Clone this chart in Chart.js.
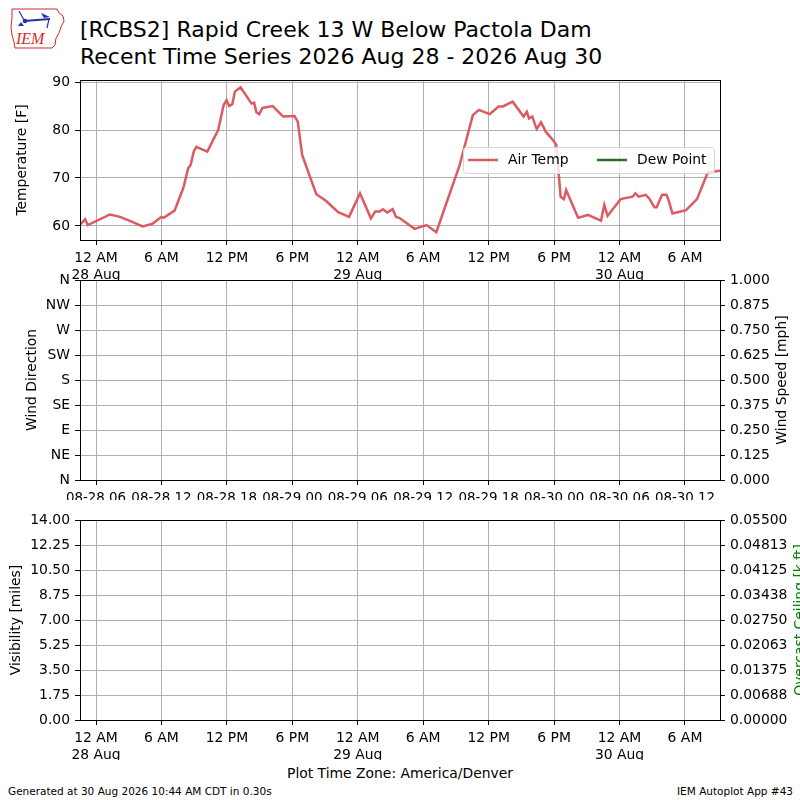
<!DOCTYPE html>
<html>
<head>
<meta charset="utf-8">
<title>RCBS2 Recent Time Series</title>
<script src="https://cdn.jsdelivr.net/npm/chart.js@4.4.1/dist/chart.umd.min.js"></script>
<style>
  body { margin: 0; background: #fff; }
  #wrap { position: relative; width: 800px; height: 800px; overflow: hidden; font-family: "DejaVu Sans", sans-serif; }
  #wrap canvas { position: absolute; left: 0; top: 0; }
  .txt { position: absolute; white-space: nowrap; color: #000; }
</style>
</head>
<body>
<div id="wrap">
  <svg style="position:absolute;left:0;top:0" width="80" height="60" viewBox="0 0 80 60">
    <path d="M12 9 L57 9 L59 13 L63 16 L64 21 L61 27 L59 33 L56 38 L55 45 L52 48 L15 48 L14 42 L12 35 L11 27 L12 18 Z" fill="none" stroke="#d42a2a" stroke-width="1"/>
    <line x1="24" y1="21" x2="50" y2="19" stroke="#2233aa" stroke-width="2"/>
    <circle cx="25" cy="21" r="2.3" fill="#2233aa"/>
    <line x1="19" y1="11" x2="24" y2="20" stroke="#2233aa" stroke-width="1.2"/>
    <path d="M41 13 L50 17 L44 18 Z" fill="#2233aa"/>
    <line x1="49" y1="19" x2="47" y2="28" stroke="#2233aa" stroke-width="1.2"/>
    <path d="M18 26 L21 22 L24 26 Z" fill="#2233aa"/>
    <text x="16" y="44" font-family="Liberation Serif" font-style="italic" font-size="16" fill="#d42a2a">IEM</text>
  </svg>
  <div class="txt" style="left:80px;top:17px;font-size:22px;line-height:26.5px">[RCBS2] Rapid Creek 13 W Below Pactola Dam<br>Recent Time Series 2026 Aug 28 - 2026 Aug 30</div>
  <div class="txt" style="left:0;width:800px;text-align:center;top:765px;font-size:13.9px">Plot Time Zone: America/Denver</div>
  <div class="txt" style="left:8px;top:785px;font-size:10.5px">Generated at 30 Aug 2026 10:44 AM CDT in 0.30s</div>
  <div class="txt" style="right:7px;top:785px;font-size:10.5px">IEM Autoplot App #43</div>
  <canvas id="tempChart" width="800" height="800"></canvas>
  <canvas id="windChart" width="800" height="800"></canvas>
  <canvas id="visChart" width="800" height="800"></canvas>
</div>
<script>
  // hours since 28 Aug 00:00 America/Denver
  const hours = [
    -1.4, -1.0, -0.76, 1.28, 2.2, 3.27, 4.27, 5.2, 6.0, 6.2, 7.2, 8.0, 8.45, 8.67, 8.97, 9.2,
    10.2, 11.2, 11.7, 11.97, 12.2, 12.5, 12.73, 13.25, 14.26, 14.5, 14.7, 14.96, 15.27, 16.2,
    17.15, 18.2, 18.5, 18.9, 19.45, 20.2, 21.1, 22.2, 23.2, 24.2, 25.2, 25.6, 26.0, 26.3, 26.7,
    27.2, 27.5, 27.8, 29.2, 30.3, 31.2, 32.7, 33.3, 34.55, 35.1, 36.1, 36.9, 37.3, 38.2, 39.2,
    39.5, 39.7, 40.0, 40.4, 40.8, 41.25, 42.0, 42.2, 42.6, 42.9, 43.1, 44.2, 45.1, 46.3, 46.6,
    46.9, 48.1, 49.2, 49.45, 49.75, 50.4, 50.7, 51.2, 51.4, 51.9, 52.3, 52.5, 52.85, 54.1,
    55.1, 56.1, 57.2
  ];
  const airTemp = [
    60.4, 61.4, 60.2, 62.4, 61.9, 60.9, 59.9, 60.5, 61.9, 61.7, 63.2, 67.9, 72.0, 72.7, 75.6, 76.5,
    75.5, 80.0, 85.2, 86.2, 85.0, 85.4, 88.0, 88.9, 85.5, 85.7, 83.7, 83.3, 84.6, 85.0,
    82.8, 82.9, 81.7, 74.8, 71.3, 66.6, 65.2, 62.9, 61.9, 66.8, 61.6, 63.0, 63.0, 63.5, 62.8,
    63.5, 61.9, 61.7, 59.4, 60.2, 58.7, 68.5, 72.4, 83.1, 84.2, 83.3, 84.9, 84.9, 85.9, 82.8,
    83.8, 82.4, 82.8, 80.2, 81.6, 79.6, 77.6, 76.9, 66.1, 65.6, 67.5, 61.7, 62.3, 61.1, 64.4,
    62.1, 65.6, 66.1, 66.8, 66.1, 66.5, 65.8, 63.9, 63.9, 66.5, 66.5, 65.4, 62.6, 63.3,
    65.6, 71.2, 71.5
  ];
  const dewPoint = [];
  const windDir = [];
  const windSpeed = [];
  const visibility = [];
  const ceiling = [];

  const hourTicks = [0, 6, 12, 18, 24, 30, 36, 42, 48, 54];
  const localLabels = [["12 AM", "28 Aug"], "6 AM", "12 PM", "6 PM", ["12 AM", "29 Aug"], "6 AM", "12 PM", "6 PM", ["12 AM", "30 Aug"], "6 AM"];
  const utcLabels = ["08-28 06", "08-28 12", "08-28 18", "08-29 00", "08-29 06", "08-29 12", "08-29 18", "08-30 00", "08-30 06", "08-30 12"];
  const tempTicks = [60, 70, 80, 90];
  const tempLabels = ["60", "70", "80", "90"];
  const dirTicks = [0, 45, 90, 135, 180, 225, 270, 315, 360];
  const dirLabels = ["N", "NE", "E", "SE", "S", "SW", "W", "NW", "N"];
  const speedTicks = [0, 0.125, 0.25, 0.375, 0.5, 0.625, 0.75, 0.875, 1];
  const speedLabels = ["0.000", "0.125", "0.250", "0.375", "0.500", "0.625", "0.750", "0.875", "1.000"];
  const visTicks = [0, 1.75, 3.5, 5.25, 7, 8.75, 10.5, 12.25, 14];
  const visLabels = ["0.00", "1.75", "3.50", "5.25", "7.00", "8.75", "10.50", "12.25", "14.00"];
  const ceilTicks = [0, 0.006875, 0.01375, 0.020625, 0.0275, 0.034375, 0.04125, 0.048125, 0.055];
  const ceilLabels = ["0.00000", "0.00688", "0.01375", "0.02063", "0.02750", "0.03438", "0.04125", "0.04813", "0.05500"];

  const GRID = "#b0b0b0";
  const FS = 13.9;

  window.addEventListener("load", setup);

  function points(xs, ys) {
    return ys.map((y, i) => ({ x: xs[i], y: y }));
  }

  function axis(values, labels, extra) {
    return Object.assign({
      bounds: "data",
      afterBuildTicks: (s) => { s.ticks = values.map((v) => ({ value: v })); },
      grid: { color: GRID, lineWidth: 1, tickColor: "#000", tickLength: 5 },
      border: { display: false },
      ticks: {
        autoSkip: false, maxRotation: 0, padding: 5, color: "#000",
        font: { size: FS },
        callback: (v) => labels[values.indexOf(v)],
      },
    }, extra);
  }

  function timeAxis(labels, h, size) {
    const a = axis(hourTicks, labels, {
      type: "linear", min: -1.47, max: 57.21,
      afterFit: (s) => { s.height = h; },
    });
    a.ticks.font = { size: size || FS };
    return a;
  }

  function leftAxis(values, labels, min, max, text, pad) {
    return axis(values, labels, {
      position: "left", min: min, max: max,
      afterFit: (s) => { s.width = 80; },
      title: { display: true, text: text, color: "#000", font: { size: FS }, padding: { top: pad, bottom: 0 } },
    });
  }

  function rightAxis(values, labels, min, max) {
    const a = axis(values, labels, {
      position: "right", min: min, max: max,
      afterFit: (s) => { s.width = 80; },
    });
    a.grid.drawOnChartArea = false;
    return a;
  }

  // black box round the plot like the matplotlib spines
  const frame = {
    id: "frame",
    afterDraw(chart) {
      const a = chart.chartArea;
      const c = chart.ctx;
      c.save();
      c.strokeStyle = "#000";
      c.lineWidth = 1;
      c.strokeRect(Math.round(a.left) + 0.5, Math.round(a.top) + 0.5, Math.round(a.right - a.left), Math.round(a.bottom - a.top));
      c.restore();
    },
  };

  // title for the right hand axis, read bottom to top
  const rightTitle = {
    id: "rightTitle",
    afterDraw(chart, args, opts) {
      if (!opts.text) return;
      const a = chart.chartArea;
      const c = chart.ctx;
      c.save();
      c.translate(opts.x, (a.top + a.bottom) / 2);
      c.rotate(-Math.PI / 2);
      c.font = FS + "px 'DejaVu Sans'";
      c.fillStyle = opts.color || "#000";
      c.textAlign = "center";
      c.textBaseline = "middle";
      c.fillText(opts.text, 0, 0);
      c.restore();
    },
  };

  // legend box inside the plot, centre right
  const boxLegend = {
    id: "boxLegend",
    afterDatasetsDraw(chart) {
      const a = chart.chartArea;
      const c = chart.ctx;
      const w = 251, h = 26;
      const x = a.right - 6 - w;
      const y = (a.top + a.bottom) / 2 - h / 2;
      c.save();
      c.beginPath();
      c.roundRect(x + 0.5, y + 0.5, w, h, 3);
      c.fillStyle = "rgba(255,255,255,0.8)";
      c.fill();
      c.strokeStyle = "#d6d6d6";
      c.lineWidth = 1;
      c.stroke();
      c.font = FS + "px 'DejaVu Sans'";
      c.textBaseline = "middle";
      let lx = x + 5;
      chart.data.datasets.forEach((ds) => {
        c.strokeStyle = ds.borderColor;
        c.lineWidth = 2.5;
        c.beginPath();
        c.moveTo(lx, y + h / 2);
        c.lineTo(lx + 30, y + h / 2);
        c.stroke();
        c.fillStyle = "#000";
        c.fillText(ds.label, lx + 40, y + h / 2);
        lx += 129;
      });
      c.restore();
    },
  };

  function setup() {
    Chart.defaults.font.family = "'DejaVu Sans'";
    Chart.defaults.font.size = FS;
    Chart.defaults.color = "#000";

    const common = {
      responsive: false,
      animation: false,
      devicePixelRatio: 1,
      events: [],
    };

    new Chart(document.getElementById("tempChart"), {
      type: "line",
      data: {
        datasets: [
          { label: "Air Temp", data: points(hours, airTemp), borderColor: "#dc5a62", borderWidth: 2.5, pointRadius: 0, tension: 0 },
          { label: "Dew Point", data: points(hours, dewPoint), borderColor: "#2e6b2e", borderWidth: 2.5, pointRadius: 0, tension: 0 },
        ],
      },
      options: Object.assign({}, common, {
        layout: { padding: { top: 80, bottom: 520, left: 0, right: 80 } },
        scales: {
          x: timeAxis(localLabels, 40),
          y: leftAxis(tempTicks, tempLabels, 57.08, 90.42, "Temperature [F]", 14.5),
        },
        plugins: { legend: { display: false }, tooltip: { enabled: false } },
      }),
      plugins: [frame, boxLegend],
    });

    new Chart(document.getElementById("windChart"), {
      type: "line",
      data: {
        datasets: [
          { label: "Wind Direction", data: points(hours, windDir), yAxisID: "y", borderColor: "#000", pointRadius: 0 },
          { label: "Wind Speed", data: points(hours, windSpeed), yAxisID: "y1", borderColor: "#000", pointRadius: 0 },
        ],
      },
      options: Object.assign({}, common, {
        layout: { padding: { top: 280, bottom: 300, left: 0, right: 0 } },
        scales: {
          x: timeAxis(utcLabels, 20, 13.4),
          y: leftAxis(dirTicks, dirLabels, 0, 360, "Wind Direction", 24.5),
          y1: rightAxis(speedTicks, speedLabels, 0, 1),
        },
        plugins: {
          legend: { display: false }, tooltip: { enabled: false },
          rightTitle: { text: "Wind Speed [mph]", x: 782, color: "#000" },
        },
      }),
      plugins: [frame, rightTitle],
    });

    new Chart(document.getElementById("visChart"), {
      type: "line",
      data: {
        datasets: [
          { label: "Visibility", data: points(hours, visibility), yAxisID: "y", borderColor: "#000", pointRadius: 0 },
          { label: "Overcast Ceiling", data: points(hours, ceiling), yAxisID: "y1", borderColor: "green", pointRadius: 0 },
        ],
      },
      options: Object.assign({}, common, {
        layout: { padding: { top: 520, bottom: 40, left: 0, right: 0 } },
        scales: {
          x: timeAxis(localLabels, 40),
          y: leftAxis(visTicks, visLabels, 0, 14, "Visibility [miles]", 8.5),
          y1: rightAxis(ceilTicks, ceilLabels, 0, 0.055),
        },
        plugins: {
          legend: { display: false }, tooltip: { enabled: false },
          rightTitle: { text: "Overcast Ceiling [k ft]", x: 800, color: "green" },
        },
      }),
      plugins: [frame, rightTitle],
    });
  }
</script>
</body>
</html>
